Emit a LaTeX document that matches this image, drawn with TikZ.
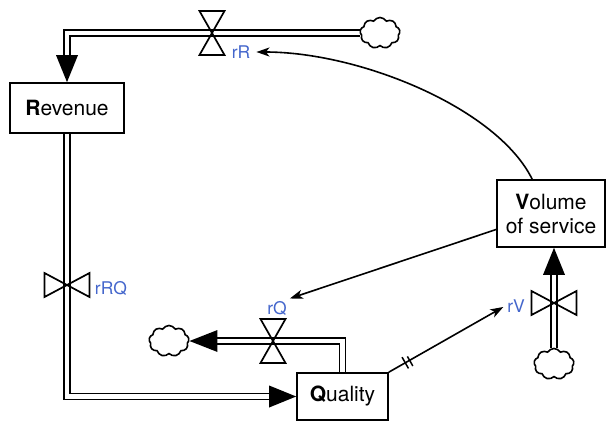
\documentclass[tikz,border=0pt]{standalone}
\usepackage{fontspec}
\setmainfont{TeX Gyre Heros}
\usetikzlibrary{calc,arrows.meta,shapes.symbols,decorations.markings}
\definecolor{lblue}{RGB}{68,102,204}
\pgfdeclarelayer{bg}
\pgfdeclarelayer{paper}
\pgfsetlayers{paper,bg,main}
\begin{document}
\begin{tikzpicture}[x=1pt,y=-1pt,
  box/.style={draw, line width=1.7pt, fill=white, inner sep=0pt, align=center, font=\fontsize{21}{24}\selectfont},
  pipe/.style={draw, line width=1.8pt, double=white, double distance=4.2pt},
  valveline/.style={draw, line width=1.7pt, line join=miter},
  cloudnode/.style={cloud, cloud puffs=9, cloud puff arc=120, aspect=1.3, draw, fill=white, line width=1.6pt, minimum width=40pt, minimum height=31pt, inner sep=0pt},
  lbl/.style={text=lblue, font=\fontsize{17.5}{20}\selectfont, inner sep=2pt},
  info/.style={draw, line width=1.6pt, -{Stealth[length=13pt,width=9pt,inset=3.5pt]}},
  hourglass/.pic={\draw[valveline] (-12.5,-22) -- (12.5,-22) -- (-12.5,22) -- (12.5,22) -- cycle;},
  bowtie/.pic={\draw[valveline] (-22.5,-12) -- (-22.5,12) -- (22.5,-12) -- (22.5,12) -- cycle;}
]
\begin{pgfonlayer}{paper}
\fill[white] (0,0) rectangle (606,421);
\end{pgfonlayer}
\useasboundingbox (0,0) rectangle (606,421);

% stocks
\node[box, minimum width=114pt, minimum height=50pt] (R) at (67,108) {\textbf{R}evenue};
\node[box, minimum width=108pt, minimum height=67pt] (Vol) at (551,213.5) {\textbf{V}olume\\of service};
\node[box, minimum width=91pt, minimum height=47pt] (Q) at (342.5,396.5) {\textbf{Q}uality};

% clouds
\node[cloudnode] (cT) at (380,33) {};
\node[cloudnode] (cL) at (169,341) {};
\node[cloudnode] (cV) at (554,364) {};

% valve positions
\coordinate (vR) at (212,33);
\coordinate (vRQ) at (67,285);
\coordinate (vQ) at (273,341);
\coordinate (vV) at (554,303);
\coordinate (vtip) at (cV.north |- Vol.south);

% pipes
\begin{pgfonlayer}{bg}
\draw[pipe] (cT.west) -| ($(R.north)+(0,-27)$);
\draw[pipe] (R.south) |- ($(Q.west)+(-27,0)$);
\draw[pipe] (Q.north) |- ($(cL.east)+(28,0)$);
\draw[pipe] (cV.north) -- ($(vtip)+(0,27)$);
\end{pgfonlayer}

% pipe arrow heads
\fill (R.north) -- ++(-11,-27) -- ++(22,0) -- cycle;
\fill (Q.west) -- ++(-27,-11) -- ++(0,22) -- cycle;
\fill (cL.east) -- ++(28,-11) -- ++(0,22) -- cycle;
\fill (vtip) -- ++(-11,27) -- ++(22,0) -- cycle;

% valves
\pic at (vR) {hourglass};
\pic at (vRQ) {bowtie};
\pic at (vQ) {hourglass};
\pic at (vV) {bowtie};

% labels
\node[lbl] (lR) at (241,52) {rR};
\node[lbl] (lRQ) at (111,288) {rRQ};
\node[lbl] (lQ) at (277,308) {rQ};
\node[lbl] (lV) at (516,306) {rV};

% information links
\draw[info, shorten >=4pt] ($(Vol.north west)+(36,0)$) .. controls (497,108) and (360,52) .. (lR.east);
\draw[info, shorten >=1pt] ($(Vol.west)+(0,16)$) -- (lQ.north east);
\draw[info, shorten >=2pt, postaction={decorate},
  decoration={markings, mark=at position 0.16 with {\draw[-, line width=1.5pt] (-2.5pt,-6.5pt) -- (-2.5pt,6.5pt) (2.5pt,-6.5pt) -- (2.5pt,6.5pt);}}]
  (Q.north east) -- (lV.west);
\end{tikzpicture}
\end{document}
